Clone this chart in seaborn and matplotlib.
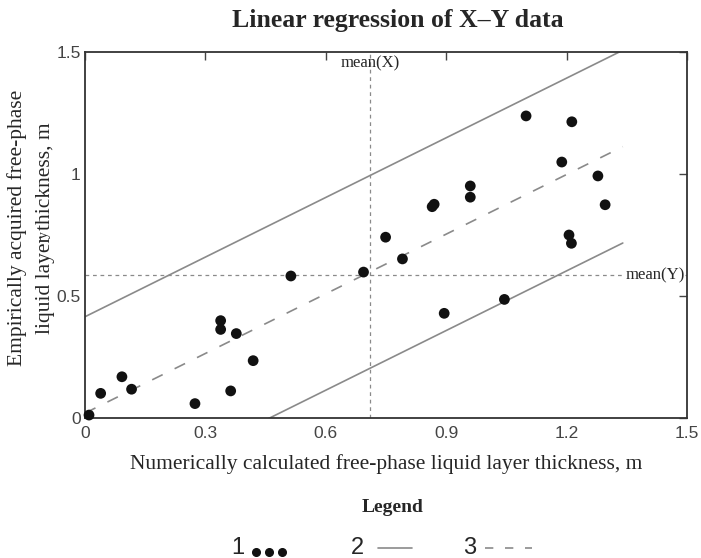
import numpy as np
import pandas as pd
import matplotlib
matplotlib.use("Agg")
import matplotlib.pyplot as plt
import seaborn as sns

# points (m)
x_calc = [0.010, 0.039, 0.092, 0.116, 0.274, 0.338, 0.338, 0.363, 0.377, 0.419,
          0.513, 0.694, 0.749, 0.791, 0.865, 0.870, 0.895, 0.960, 0.960, 1.045,
          1.099, 1.188, 1.206, 1.212, 1.213, 1.278, 1.296]
y_emp = [0.012, 0.101, 0.169, 0.118, 0.059, 0.399, 0.363, 0.111, 0.346, 0.235,
         0.582, 0.598, 0.741, 0.652, 0.866, 0.876, 0.429, 0.951, 0.905, 0.486,
         1.238, 1.049, 0.750, 0.716, 1.214, 0.992, 0.874]

slope = 0.815
intercept = 0.02
band = 0.395
x_end = 1.34

ticks_x = [0, 0.3, 0.6, 0.9, 1.2, 1.5]
ticks_y = [0, 0.5, 1, 1.5]
tick_labels_y = ["0", "0.5", "1", "1.5"]

df = pd.DataFrame({"x": x_calc, "y": y_emp})
mean_x = df["x"].mean()
mean_y = df["y"].mean()

sns.set_style("white")
plt.rcParams["font.family"] = ["Liberation Serif", "DejaVu Serif"]
tick_font = ["Liberation Sans Narrow", "Liberation Sans", "DejaVu Sans"]

fig = plt.figure(figsize=(7.01, 5.58), dpi=100)
ax = fig.add_axes([85 / 701, 1 - 418 / 558, 602 / 701, 366 / 558])

grey = "#8a8a8a"
xs = np.array([0, x_end])
ax.plot(xs, slope * xs + intercept + band, color=grey, lw=1.2)
ax.plot(xs, slope * xs + intercept - band, color=grey, lw=1.2)
ax.plot(xs, slope * xs + intercept, color=grey, lw=1.2, dashes=(7, 8))

ax.axvline(mean_x, color=grey, lw=0.9, dashes=(3, 3))
ax.axhline(mean_y, color=grey, lw=0.9, dashes=(3, 3))

sns.scatterplot(data=df, x="x", y="y", ax=ax, color="#111111", s=60,
                edgecolor="none", zorder=5, clip_on=False)

ax.text(mean_x, 1.455, "mean(X)", ha="center", va="center", fontsize=12)
ax.text(1.494, mean_y, "mean(Y)", ha="right", va="center", fontsize=12,
        bbox=dict(facecolor="white", edgecolor="none", pad=0.5))

ax.set_xlim(0, 1.5)
ax.set_ylim(0, 1.5)
ax.set_xticks(ticks_x)
ax.set_xticklabels([f"{t:g}" for t in ticks_x], family=tick_font)
ax.set_yticks(ticks_y)
ax.set_yticklabels(tick_labels_y, family=tick_font)
ax.tick_params(direction="in", length=6, width=1, top=True, right=True,
               labelsize=12.5, colors="#444444")
ax.tick_params(axis="x", pad=6)
ax.tick_params(axis="y", pad=3)
for s in ax.spines.values():
    s.set_color("#333333")
    s.set_linewidth(1.3)

ax.set_xlabel("Numerically calculated free-phase liquid layer thickness, m",
              fontsize=15.5, labelpad=9)
# two-line y label, drawn as separate lines so the spacing is exact
fig.text(17 / 701, 1 - 228 / 558, "Empirically acquired free-phase",
         rotation=90, ha="center", va="center", fontsize=15.5)
fig.text(46 / 701, 1 - 228 / 558, "liquid layer thickness, m",
         rotation=90, ha="center", va="center", fontsize=15.5)

fig.text(398 / 701, 1 - 20 / 558, "Linear regression of X\u2013Y data",
         ha="center", va="center", fontsize=18.5, fontweight="bold")
fig.text(393 / 701, 1 - 507 / 558, "Legend", ha="center", va="center",
         fontsize=14, fontweight="bold")

# legend row at the bottom
leg_y = 1 - 548 / 558
for num, xn in [("1", 238), ("2", 357), ("3", 470)]:
    fig.text(xn / 701, leg_y, num, ha="center", va="center", fontsize=17,
             family="Liberation Sans")
fig.add_artist(plt.Line2D([256 / 701, 269 / 701, 282 / 701], [leg_y - 0.008] * 3,
                          ls="none", marker="o", ms=5.5, color="#111111"))
fig.add_artist(plt.Line2D([378 / 701, 412 / 701], [leg_y] * 2, color=grey, lw=1.2))
fig.add_artist(plt.Line2D([485 / 701, 532 / 701], [leg_y] * 2, color=grey, lw=1.2,
                          dashes=(5, 7)))

fig.savefig("out.png", dpi=100)
